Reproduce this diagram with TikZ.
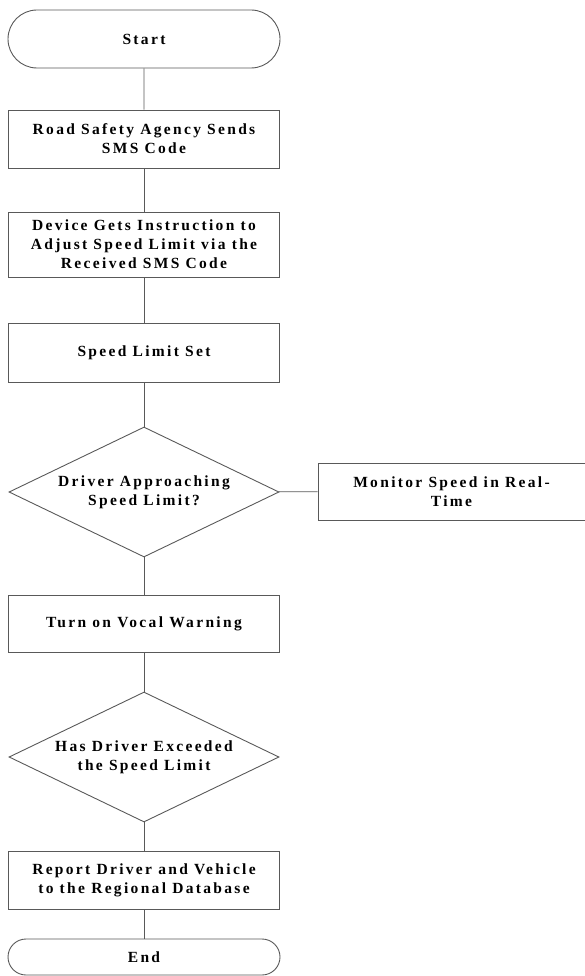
\documentclass[tikz,border=0pt]{standalone}
\usepackage{fontspec}
\setmainfont[LetterSpace=15]{Liberation Serif}
\usepackage{tikz}
\usetikzlibrary{shapes.geometric,shapes.misc}

\begin{document}
\begin{tikzpicture}[x=1pt, y=-1pt, line width=0.9pt, draw=black!70,
  every node/.style={font=\bfseries\fontsize{15.5}{19}\selectfont, align=center, inner sep=0pt},
  every label/.style={font=\bfseries\fontsize{15.5}{19}\selectfont, align=center, inner sep=0pt},
  proc/.style={draw=black!65, rectangle, minimum width=271pt},
  term/.style={draw=black!65, rounded rectangle, minimum width=272pt},
  dec/.style={draw=black!65, diamond, minimum width=270pt, minimum height=130pt}]
\useasboundingbox (0,0) rectangle (585,976);
\node[term, minimum height=58pt] (start) at (144,39) {Start};
\node[proc, minimum height=58pt] (sms) at (144,139) {Road Safety Agency Sends\\SMS Code};
\node[proc, minimum height=65pt] (adjust) at (144,244.5) {Device Gets Instruction to\\Adjust Speed Limit via the\\Received SMS Code};
\node[proc, minimum height=59pt] (set) at (144,352.5) {Speed Limit Set};
\node[dec, label=center:{Driver Approaching\\Speed Limit?}] (approach) at (144,492) {};
\node[proc, minimum width=267pt, minimum height=57pt] (monitor) at (451.5,491.5) {Monitor Speed in Real-\\Time};
\node[proc, minimum height=57pt] (vocal) at (144,623.5) {Turn on Vocal Warning};
\node[dec, label=center:{Has Driver Exceeded\\the Speed Limit}] (exceed) at (144,757) {};
\node[proc, minimum height=58pt] (report) at (144,880) {Report Driver and Vehicle\\to the Regional Database};
\node[term, minimum height=36pt] (end) at (144,957) {End};
\path[draw=black!65]
(start) edge (sms)
(sms) edge (adjust)
(adjust) edge (set)
(set) edge (approach)
(approach) edge (monitor)
(approach) edge (vocal)
(vocal) edge (exceed)
(exceed) edge (report)
(report) edge (end);
\end{tikzpicture}
\end{document}
